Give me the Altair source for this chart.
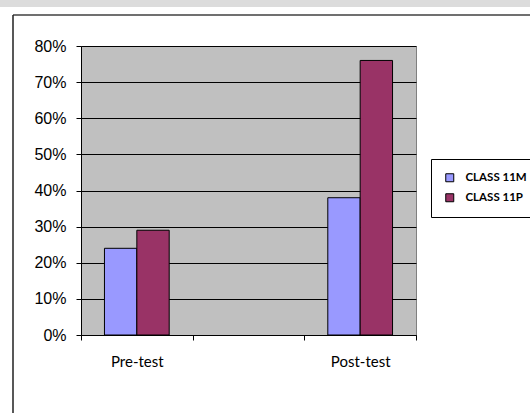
import altair as alt
import pandas as pd

phases = ["Pre-test", "Post-test"]
axis_categories = ["Pre-test", " ", "Post-test"]
series_names = ["CLASS 11M", "CLASS 11P"]
class_11m = [0.24, 0.38]
class_11p = [0.29, 0.76]
series_colors = ["#9999FF", "#993366"]

rows = []
for name, vals in zip(series_names, [class_11m, class_11p]):
    for p, v in zip(phases, vals):
        rows.append({"Phase": p, "Class": name, "Value": v})
df = pd.DataFrame(rows)

bars = alt.Chart(df).mark_bar(stroke="black", strokeWidth=1).encode(
    x=alt.X("Phase:N", sort=axis_categories,
            scale=alt.Scale(domain=axis_categories, paddingInner=0, paddingOuter=0),
            axis=alt.Axis(title=None, labelAngle=0, tickBand="extent", tickSize=5,
                          labelPadding=14, labelFont="Lato", labelFontSize=15,
                          labelColor="black", domainColor="black", tickColor="black",
                          grid=False)),
    xOffset=alt.XOffset("Class:N", scale=alt.Scale(paddingInner=0, paddingOuter=0.725)),
    y=alt.Y("Value:Q", scale=alt.Scale(domain=[0, 0.8], nice=False),
            axis=alt.Axis(title=None, format=".0%", values=[0, 0.1, 0.2, 0.3, 0.4, 0.5, 0.6, 0.7, 0.8],
                          tickSize=5, labelPadding=10, labelFont="Liberation Sans",
                          labelFontSize=16, labelColor="black", domainColor="black",
                          tickColor="black", grid=True, gridColor="black", gridOpacity=1)),
    color=alt.Color("Class:N", scale=alt.Scale(domain=series_names, range=series_colors),
                    legend=alt.Legend(title=None, orient="none", legendX=350, legendY=113,
                                      fillColor="white", strokeColor="black", padding=13,
                                      symbolType="square", symbolSize=64,
                                      symbolStrokeColor="black", symbolStrokeWidth=1,
                                      symbolOpacity=1, rowPadding=7, labelOffset=10,
                                      labelFont="Lato", labelFontWeight="bold",
                                      labelFontSize=11.5, labelColor="black")),
)

one = pd.DataFrame({"a": [0]})
top_band = alt.Chart(one).mark_rect(color="#dcdcdc", clip=False).encode(
    x=alt.value(-81), x2=alt.value(449), y=alt.value(-46), y2=alt.value(-39))
top_line = alt.Chart(one).mark_rule(color="#404040", strokeWidth=1.5, clip=False).encode(
    x=alt.value(-68), x2=alt.value(449), y=alt.value(-31))
left_line = alt.Chart(one).mark_rule(color="#202020", strokeWidth=1.5, clip=False).encode(
    x=alt.value(-68), y=alt.value(-31), y2=alt.value(367))

chart = alt.layer(top_band, top_line, left_line, bars).properties(
    width=335, height=289,
    autosize=alt.AutoSizeParams(type="none"),
    padding={"left": 81, "top": 46, "right": 114, "bottom": 78},
    background="white",
).configure_view(fill="#C0C0C0", stroke="#808080", strokeWidth=1)

chart.save("out.html", embed_options={"renderer": "svg", "actions": False})
